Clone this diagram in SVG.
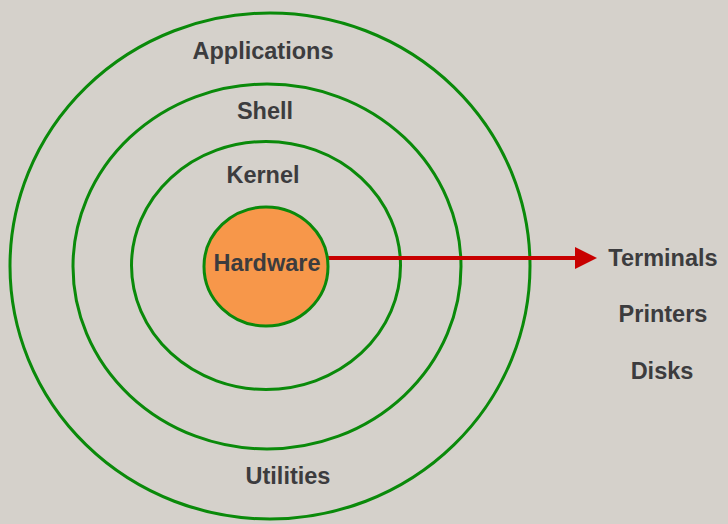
<svg xmlns="http://www.w3.org/2000/svg" width="728" height="524" viewBox="0 0 728 524">
<defs>
<style>
.ring{fill:none;stroke:#0a8a0a;stroke-width:3}
.lbl{font-family:"Liberation Sans",Arial,sans-serif;font-weight:bold;font-size:23.5px;fill:#3c3c3e;text-anchor:middle}
.conn{stroke:#c80000;stroke-width:4;fill:none}
</style>
<marker id="ah" markerUnits="userSpaceOnUse" markerWidth="24" markerHeight="24" viewBox="0 0 24 24" refX="11" refY="12" orient="auto">
<path d="M1,1 L23,12 L1,23 Z" fill="#c80000"/>
</marker>
</defs>
<rect width="728" height="524" fill="#d5d1cb"/>
<g id="applications">
<ellipse class="ring" cx="270" cy="266" rx="260" ry="253"/>
<text class="lbl" x="263" y="59">Applications</text>
<text class="lbl" x="288" y="484">Utilities</text>
</g>
<g id="shell">
<ellipse class="ring" cx="267" cy="266.5" rx="194" ry="182.5"/>
<text class="lbl" x="265" y="119">Shell</text>
</g>
<g id="kernel">
<ellipse class="ring" cx="266" cy="265.5" rx="134.5" ry="124"/>
<text class="lbl" x="263" y="183">Kernel</text>
</g>
<g id="connectors">
<line class="conn" x1="328" y1="258" x2="585" y2="258" marker-end="url(#ah)"/>
</g>
<g id="hardware">
<ellipse cx="266" cy="266.5" rx="62" ry="59.5" fill="#f7974a" stroke="#0a8a0a" stroke-width="3"/>
<text class="lbl" x="267" y="271">Hardware</text>
</g>
<g id="devices">
<text class="lbl" x="663" y="266">Terminals</text>
<text class="lbl" x="663" y="322">Printers</text>
<text class="lbl" x="662" y="379">Disks</text>
</g>
</svg>
